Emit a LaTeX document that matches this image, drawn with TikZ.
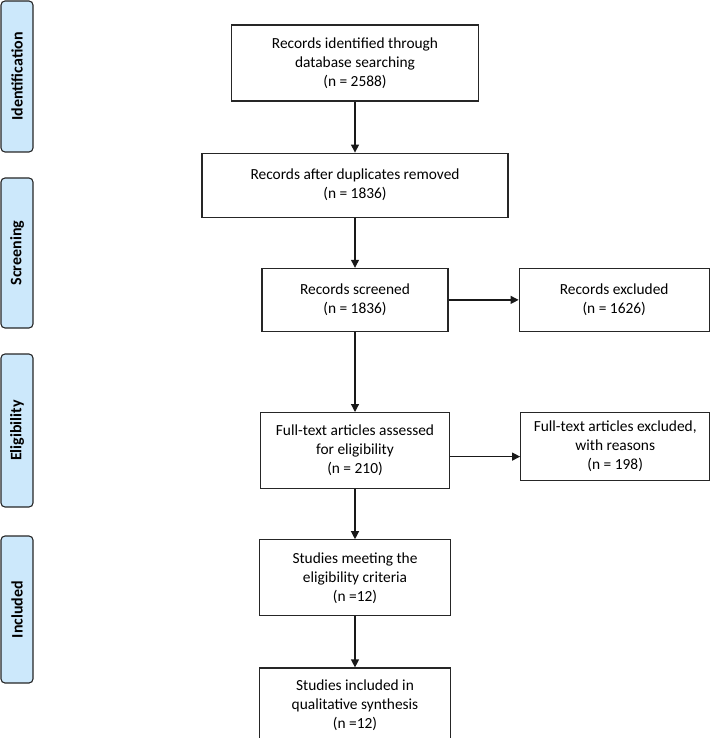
\documentclass[tikz,border=0pt]{standalone}
\usepackage{fontspec}
\setmainfont{Carlito}
\usepackage{xcolor}
\usetikzlibrary{positioning,arrows.meta}

\definecolor{phaseblue}{RGB}{204,232,251}

\tikzset{
  box/.style={draw=black!85, line width=1.2pt, rectangle, align=center, inner sep=2pt,
    font=\fontsize{15.4}{19}\selectfont},
  phase/.style={draw=black!85, line width=1.1pt, rounded corners=4pt, fill=phaseblue,
    rotate=90, minimum height=32pt, inner sep=0pt, font=\fontsize{16}{19}\selectfont\bfseries},
  arr/.style={-{Triangle[length=8pt,width=8pt]}, line width=1.2pt, black!90},
}

\begin{document}
\begin{tikzpicture}
            \useasboundingbox (0,0) rectangle (709pt,-738pt);

            % phases on the left
            \node (pid) [phase, minimum width=151pt] at (17pt,-76.5pt) {Identification};
            \node (pscr) [phase, minimum width=150pt] at (17pt,-253pt) {Screening};
            \node (pelig) [phase, minimum width=153pt] at (17pt,-430.5pt) {Eligibility};
            \node (pinc) [phase, minimum width=147pt] at (17pt,-609.5pt) {Included};

            % main column
            \node (ident) [box, minimum width=247pt, minimum height=76pt] at (355pt,-63pt) {Records identified through\\database searching\\(n = 2588)};
            \node (dupl) [box, minimum width=306pt, minimum height=64pt, below=51pt of ident] {Records after duplicates removed\\(n = 1836)};
            \node (screen) [box, minimum width=186pt, minimum height=63pt, below=50pt of dupl] {Records screened\\(n = 1836)};
            \node (full) [box, minimum width=189pt, minimum height=76pt, below=80pt of screen] {Full-text articles assessed\\for eligibility\\(n = 210)};
            \node (meet) [box, minimum width=191pt, minimum height=76pt, below=50pt of full] {Studies meeting the\\eligibility criteria\\(n =12)};
            \node (incl) [box, minimum width=191pt, minimum height=75pt, below=51pt of meet] {Studies included in\\qualitative synthesis\\(n =12)};

            % exclusions
            \node (excl) [box, minimum width=190pt, minimum height=63pt, right=70pt of screen] {Records excluded\\(n = 1626)};
            \node (ftexcl) [box, minimum width=189pt, minimum height=68pt, right=70pt of full, yshift=4pt] {Full-text articles excluded,\\with reasons\\(n = 198)};

            \draw[arr] (ident) -- (dupl);
            \draw[arr] (dupl) -- (screen);
            \draw[arr] (screen) -- (full);
            \draw[arr] (full) -- (meet);
            \draw[arr] (meet) -- (incl);
            \draw[arr] (screen) -- (excl);
            \draw[arr] ([yshift=-6pt]full.east) -- ([yshift=-6pt]full.east -| ftexcl.west);
        \end{tikzpicture}
\end{document}
